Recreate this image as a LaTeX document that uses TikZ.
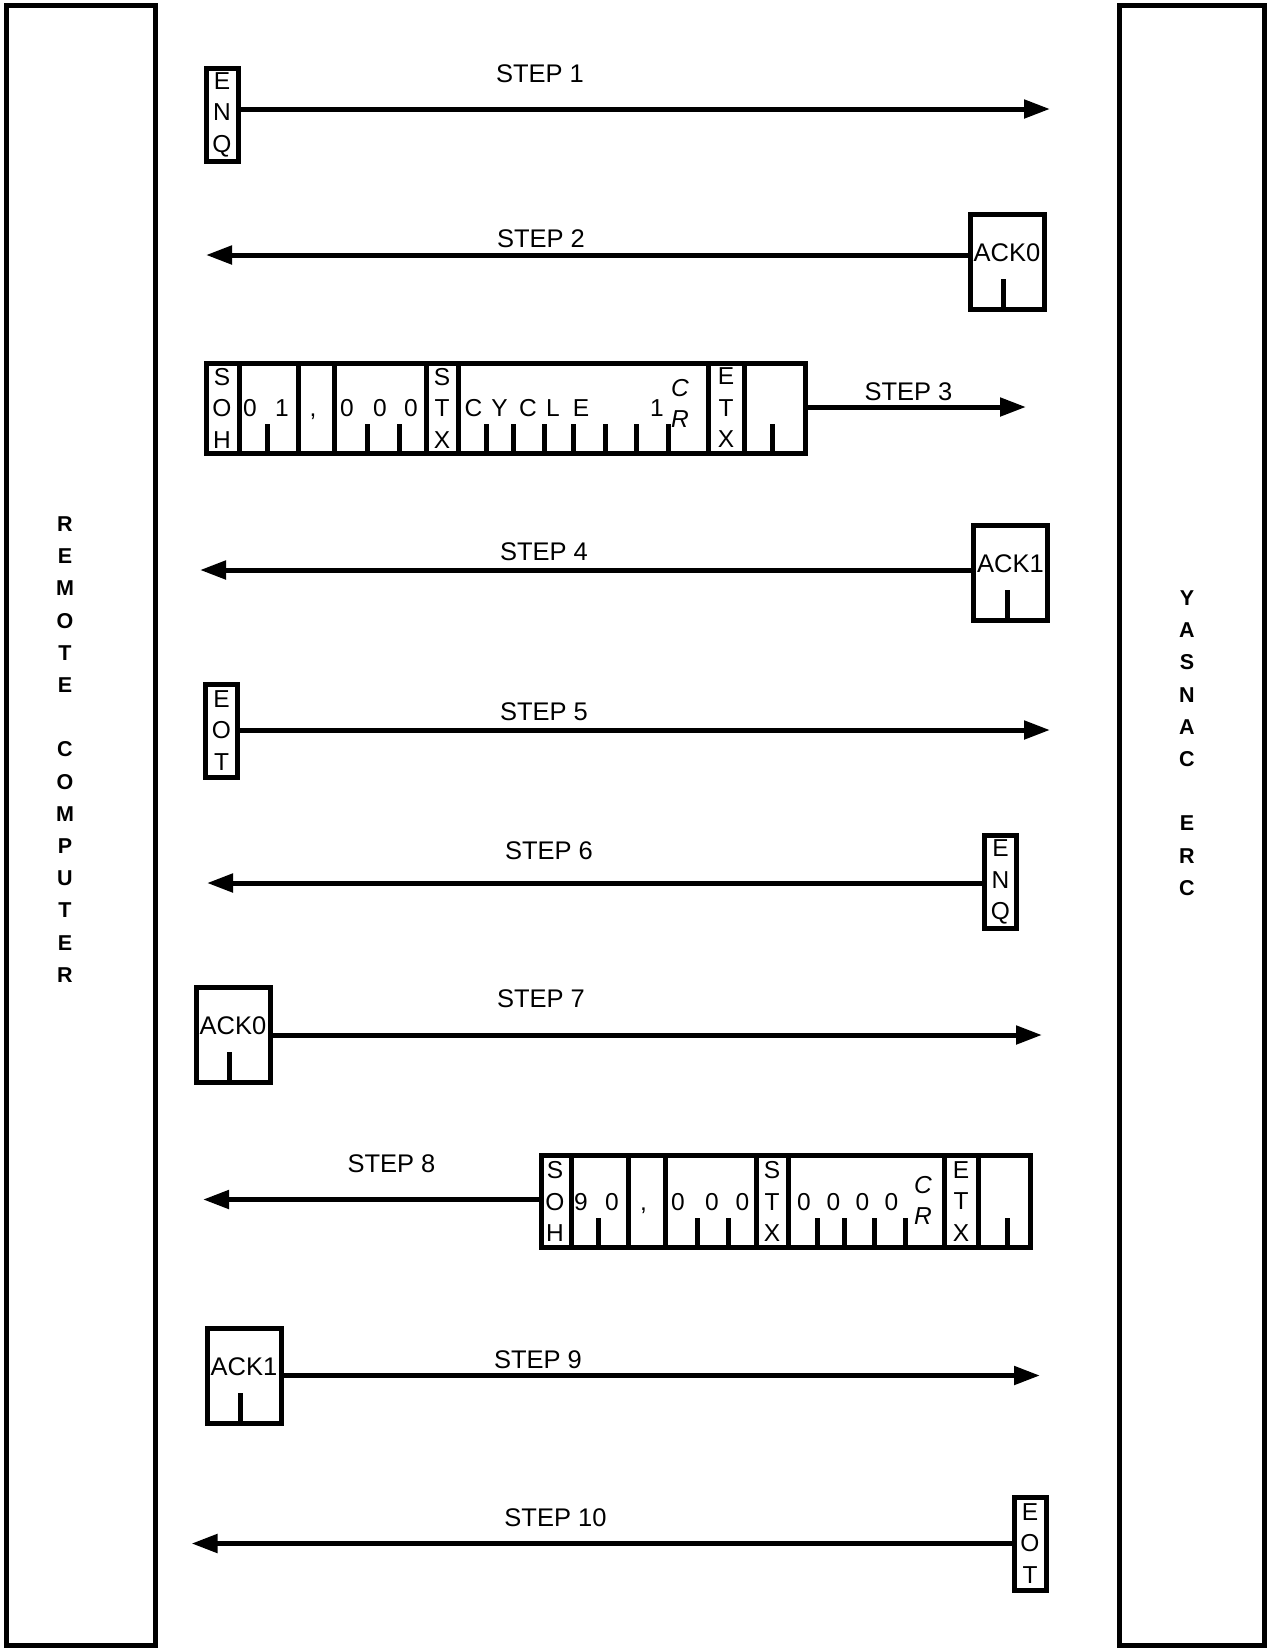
\documentclass[tikz,border=0pt]{standalone}
\usepackage{fontspec}
\setmainfont{Liberation Sans}
\usepackage{tikz}
\usetikzlibrary{arrows.meta}
\tikzset{
  partybox/.style={draw, line width=5pt},
  sidename/.style={align=center, inner sep=0, font=\bfseries\fontsize{21.5}{32.2}\selectfont},
  steplabel/.style={inner sep=0, font=\fontsize{25.5}{30}\selectfont},
  msg/.style={line width=5pt, ->, >={Triangle[length=26pt,width=18pt]}},
  ackbox/.style={draw, line width=5pt, inner sep=0, minimum width=74pt, minimum height=95pt,
    font=\fontsize{25.5}{30}\selectfont, text height=18.3pt, text depth=18pt},
  charbox/.style={draw, line width=5pt, inner sep=0, minimum width=32pt, minimum height=93pt,
    align=center, font=\fontsize{24.5}{31.5}\selectfont},
  msgframe/.style={draw, line width=5pt, inner sep=0},
  cellbar/.style={line width=5pt},
  bittick/.style={line width=5pt},
  chr/.style={inner sep=0, anchor=base, font=\fontsize{24.5}{31.5}\selectfont},
  stk/.style={inner sep=0, align=center, font=\fontsize{24.5}{31.5}\selectfont},
  crstk/.style={inner sep=0, align=center, font=\itshape\fontsize{24.5}{31}\selectfont}
}

\begin{document}
\begin{tikzpicture}[x=1pt, y=-1pt]
    \useasboundingbox (0,0) rectangle (1270,1650);
    \draw[partybox] (6.5,5) rectangle (155.5,1645);
    \draw[partybox] (1119,5) rectangle (1264,1645);
    \node[sidename] (remote) at (65,749.5) {R\\E\\M\\O\\T\\E\\[32.2pt]C\\O\\M\\P\\U\\T\\E\\R};
    \node[sidename] (yasnac) at (1187,743) {Y\\A\\S\\N\\A\\C\\[32.2pt]E\\R\\C};

    \node[charbox] (enq1) at (222,114.5) {E\\N\\Q};
    \coordinate (tip1) at (1050,109);
    \draw[msg] (enq1.east |- tip1) -- (tip1);
    \node[steplabel] (step1) at (540,74) {STEP 1};

    \node[ackbox] (ack0a) at (1007,261.5) {ACK0};
    \draw[bittick] ([xshift=-3.5pt]ack0a.south) -- ++(0,-33);
    \coordinate (tip2) at (206,255);
    \draw[msg] (ack0a.west |- tip2) -- (tip2);
    \node[steplabel] (step2) at (541,239) {STEP 2};

    \node[msgframe, minimum width=599pt, minimum height=90pt] (frame3) at (506,408.5) {};
    \foreach \x in {239,298,334,426,458,708,744} {
      \draw[cellbar] (\x,363.5) -- (\x,453.5);
    }
    \foreach \x in {267,367,399,486,513,544,573,605,636,668,772} {
      \draw[bittick] (\x,453.5) -- ++(0,-30);
    }
    \foreach \c/\x [count=\i] in {0/250,1/282,0/347,0/380,0/411,C/473.5,Y/499.5,C/528,L/553,E/581,1/657} {
      \node[chr] (f3c\i) at (\x,416.5) {\c};
    }
    \node[chr] (f3comma) at (313,416.5) {,};
    \node[stk] (f3soh) at (222,408) {S\\O\\H};
    \node[stk] (f3stx) at (442,408) {S\\T\\X};
    \node[crstk] (f3cr) at (680,403.5) {C\\R};
    \node[stk] (f3etx) at (726,408) {E\\T\\X};
    \coordinate (tip3) at (1026,407);
    \draw[msg] (frame3.east |- tip3) -- (tip3);
    \node[steplabel] (step3) at (908.5,392) {STEP 3};

    \node[ackbox] (ack1a) at (1010.5,572.5) {ACK1};
    \draw[bittick] ([xshift=-3.5pt]ack1a.south) -- ++(0,-33);
    \coordinate (tip4) at (200,570);
    \draw[msg] (ack1a.west |- tip4) -- (tip4);
    \node[steplabel] (step4) at (544,552) {STEP 4};

    \node[charbox] (eot5) at (221.5,730.5) {E\\O\\T};
    \coordinate (tip5) at (1050,730);
    \draw[msg] (eot5.east |- tip5) -- (tip5);
    \node[steplabel] (step5) at (544,712) {STEP 5};

    \node[charbox] (enq6) at (1000.5,882) {E\\N\\Q};
    \coordinate (tip6) at (207,883);
    \draw[msg] (enq6.west |- tip6) -- (tip6);
    \node[steplabel] (step6) at (549,851) {STEP 6};

    \node[ackbox] (ack0b) at (233,1034.5) {ACK0};
    \draw[bittick] ([xshift=-3.5pt]ack0b.south) -- ++(0,-33);
    \coordinate (tip7) at (1042,1035);
    \draw[msg] (ack0b.east |- tip7) -- (tip7);
    \node[steplabel] (step7) at (541,998.5) {STEP 7};

    \node[msgframe, minimum width=489pt, minimum height=92pt] (frame8) at (786,1201.5) {};
    \foreach \x in {571,628,665,756,788,944,978} {
      \draw[cellbar] (\x,1155.5) -- (\x,1247.5);
    }
    \foreach \x in {598,697,728.5,817,844,874,905,1007.5} {
      \draw[bittick] (\x,1247.5) -- ++(0,-30);
    }
    \foreach \c/\x [count=\i] in {9/581,0/612,0/678,0/712,0/742.5,0/804,0/833.5,0/862.5,0/891.5} {
      \node[chr] (f8c\i) at (\x,1210) {\c};
    }
    \node[chr] (f8comma) at (643.5,1210) {,};
    \node[stk] (f8soh) at (555,1201.5) {S\\O\\H};
    \node[stk] (f8stx) at (772,1201.5) {S\\T\\X};
    \node[crstk] (f8cr) at (923,1200) {C\\R};
    \node[stk] (f8etx) at (961,1201.5) {E\\T\\X};
    \coordinate (tip8) at (203,1199.5);
    \draw[msg] (frame8.west |- tip8) -- (tip8);
    \node[steplabel] (step8) at (391.5,1163.5) {STEP 8};

    \node[ackbox] (ack1b) at (244,1375.5) {ACK1};
    \draw[bittick] ([xshift=-3.5pt]ack1b.south) -- ++(0,-33);
    \coordinate (tip9) at (1040,1375.5);
    \draw[msg] (ack1b.east |- tip9) -- (tip9);
    \node[steplabel] (step9) at (538,1360) {STEP 9};

    \node[charbox] (eot10) at (1030,1543.5) {E\\O\\T};
    \coordinate (tip10) at (191.5,1543.5);
    \draw[msg] (eot10.west |- tip10) -- (tip10);
    \node[steplabel] (step10) at (555.5,1518) {STEP 10};
\end{tikzpicture}
\end{document}
